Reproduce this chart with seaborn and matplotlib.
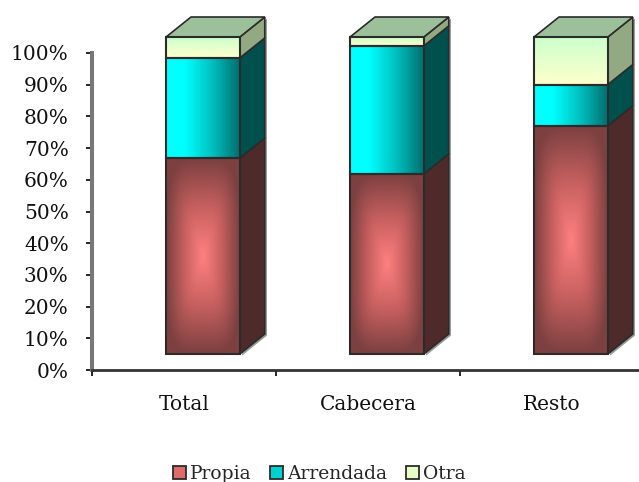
import numpy as np
import pandas as pd
import matplotlib
matplotlib.use("Agg")
import matplotlib.pyplot as plt
from matplotlib.colors import LinearSegmentedColormap
from matplotlib.patches import Polygon
import seaborn as sns

categories = ["Total", "Cabecera", "Resto"]
propia = [61.8, 56.8, 72.0]
arrendada = [31.6, 40.4, 13.0]
otra = [6.6, 2.8, 15.0]
series_names = ["Propia", "Arrendada", "Otra"]
y_ticks = list(range(0, 101, 10))

sns.set_theme(style="white")
plt.rcParams["font.family"] = ["DejaVu Serif"]

W, H = 639, 482
fig = plt.figure(figsize=(W / 100, H / 100), dpi=100, facecolor="white")
ax = fig.add_axes([92 / W, 1 - 370 / H, (644 - 92) / W, 317 / H])

BAR_W = 74 / 184.5
SX, SY = 19 / 184.5, 16 / 3.17      # front-face offset of the fake 3D box
DX, DY = 25 / 184.5, 20 / 3.17      # depth of the fake 3D box
EDGE = "#2b2b2b"

df = pd.DataFrame({"cat": categories, "Propia": propia, "Arrendada": arrendada, "Otra": otra})
legend_cols = ["#e06a6a", "#00d0d0", "#e6ffc4"]
side_cols = ["#4f2a2a", "#00504e", "#93a983"]
top_col = "#9cc09a"

bottoms = np.zeros(3)
for name, col in zip(series_names, legend_cols):
    sns.barplot(data=df, x="cat", y=name, color=col, saturation=1, width=BAR_W,
                bottom=bottoms, label=name, ax=ax, edgecolor=EDGE, linewidth=1.5, zorder=3)
    bottoms = bottoms + df[name].to_numpy()


def grad_propia():
    y, x = np.mgrid[0:1:160j, 0:1:80j]
    d = ((np.abs(x - .5) * 2) ** 4 + (np.abs(y - .5) * 2) ** 4) ** 0.25
    return np.clip(d, 0, 1)


def grad_arr():
    x = np.linspace(0, 1, 80)[None, :]
    return np.clip((x - 0.25) / 0.75, 0, 1)


def grad_otra():
    return np.linspace(0, 1, 60)[:, None]


cmaps = [
    LinearSegmentedColormap.from_list("p", ["#ff8080", "#c86060", "#7c4040"]),
    LinearSegmentedColormap.from_list("a", ["#00ffff", "#00c0c0", "#006f6f"]),
    LinearSegmentedColormap.from_list("o", ["#ffffcc", "#ccffcc"]),
]
grads = [grad_propia, grad_arr, grad_otra]

for s, container in enumerate(ax.containers):
    for i, bar in enumerate(container):
        x0 = bar.get_x() + SX
        y0 = bar.get_y() + SY
        w, h = bar.get_width(), bar.get_height()
        bar.set_x(x0)
        bar.set_y(y0)
        bar.set_clip_on(False)
        bar.set_zorder(5)
        bar.set_facecolor("none")
        im = ax.imshow(grads[s](), cmap=cmaps[s], vmin=0, vmax=1, aspect="auto",
                       extent=[x0, x0 + w, y0, y0 + h], origin="lower",
                       interpolation="bilinear", zorder=4)
        im.set_clip_on(False)
        side = [(x0 + w, y0), (x0 + w + DX, y0 + DY), (x0 + w + DX, y0 + h + DY), (x0 + w, y0 + h)]
        ax.add_patch(Polygon(side, closed=True, fc=side_cols[s], ec=EDGE, lw=1.2,
                             clip_on=False, zorder=3))
        shadow = [(a + 0.012, b - 0.5) for a, b in side]
        ax.add_patch(Polygon(shadow, closed=True, fc="#9a9a9a", ec="none",
                             clip_on=False, zorder=2))
        if s == len(series_names) - 1:
            top = [(x0, y0 + h), (x0 + w, y0 + h), (x0 + w + DX, y0 + h + DY), (x0 + DX, y0 + h + DY)]
            ax.add_patch(Polygon(top, closed=True, fc=top_col, ec=EDGE, lw=1.2,
                                 clip_on=False, zorder=3))

ax.set_xlim(-0.5, 2.5)
ax.set_ylim(0, 100)
ax.set_xlabel("")
ax.set_ylabel("")
ax.set_yticks(y_ticks)
ax.set_yticklabels([f"{v}%" for v in y_ticks], fontsize=14.5, color="#111111")
ax.set_xticks([-0.5, 0.5, 1.5, 2.5])
ax.set_xticklabels([])
ax.set_xticks([0, 1, 2], minor=True)
ax.set_xticklabels(categories, minor=True, fontsize=14.5, color="#111111")
ax.tick_params(axis="y", left=True, length=4.3, width=1.2, color="black", pad=12.5)
ax.tick_params(axis="x", which="major", bottom=True, length=4, width=1.2, color="black")
ax.tick_params(axis="x", which="minor", bottom=False, length=0, pad=18)

sns.despine(ax=ax, top=True, right=True)
ax.spines["left"].set_color("#777777")
ax.spines["left"].set_linewidth(2.9)
ax.spines["bottom"].set_color("#333333")
ax.spines["bottom"].set_linewidth(2)

leg = ax.legend(loc="center", bbox_to_anchor=(319 / W, 1 - 474 / H), bbox_transform=fig.transFigure,
                ncol=3, frameon=False, fontsize=13.5, handlelength=0.7, handleheight=0.7,
                handletextpad=0.2, columnspacing=1.0, borderpad=0, labelspacing=0)
for handle, col in zip(leg.get_patches(), legend_cols):
    handle.set_facecolor(col)
    handle.set_edgecolor(EDGE)
    handle.set_linewidth(1.3)

fig.savefig("out.png", dpi=100, facecolor="white")
